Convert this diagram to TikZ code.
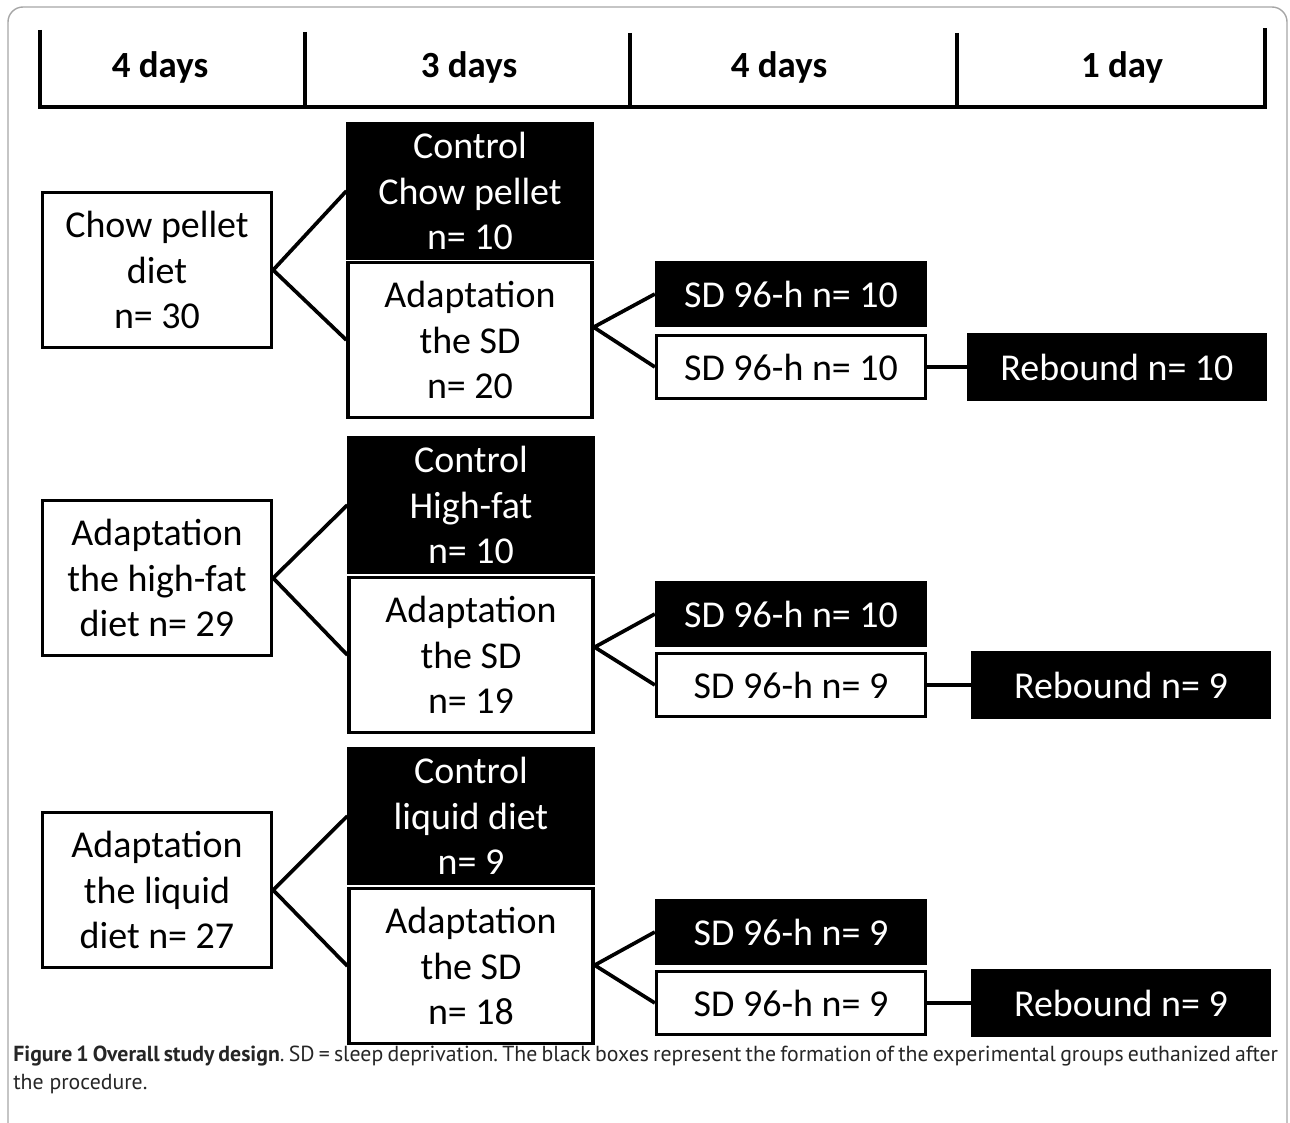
\documentclass[tikz,border=0pt]{standalone}
\usepackage{fontspec}
\setmainfont{Carlito}
\newfontfamily\capfont{PT Sans}
\usetikzlibrary{positioning,calc}
\tikzstyle{wbox}=[draw,line width=1.9pt,fill=white,align=center,inner sep=0pt,font=\fontsize{21.6}{26}\selectfont]
\tikzstyle{bbox}=[wbox,fill=black,text=white]
\tikzstyle{rootbox}=[minimum width=4.58cm,minimum height=3.1cm]
\tikzstyle{ctlbox}=[minimum width=4.88cm,minimum height=2.68cm]
\tikzstyle{adbox}=[minimum width=4.88cm,minimum height=3.1cm]
\tikzstyle{sdbox}=[minimum width=5.38cm,minimum height=1.26cm]
\tikzstyle{rebbox}=[minimum width=5.94cm,minimum height=1.28cm]
\tikzstyle{link}=[line width=2.1pt,line join=round]
\tikzstyle{tline}=[line width=2.3pt]
\tikzstyle{period}=[anchor=base,font=\bfseries\fontsize{21}{26}\selectfont]

\begin{document}
\frenchspacing
\begin{tikzpicture}[x=0.02cm,y=-0.02cm]
\useasboundingbox (0,0) rectangle (1290,1122);
\draw[gray!70,line width=0.8pt,rounded corners=0.3cm] (8,1130) -- (8,7) -- (1287,7) -- (1287,1130);

\draw[tline] (40,30) -- (40,107) -- (1265,107) -- (1265,28);
\draw[tline] (305,32) -- (305,107);
\draw[tline] (630,33) -- (630,107);
\draw[tline] (957,33) -- (957,107);
\node[period] (p1) at (160,78) {4 days};
\node[period] (p2) at (469,78) {3 days};
\node[period] (p3) at (779,78) {4 days};
\node[period] (p4) at (1122,78) {1 day};

\node[wbox,rootbox] (chow) at (157,270) {Chow pellet\\diet\\n= 30};
\node[bbox,ctlbox] (ctlA) at (470,191) {Control\\Chow pellet\\n= 10};
\node[wbox,adbox] (adA) at (470,340) {Adaptation\\the SD\\n= 20};
\node[bbox,sdbox] (sdA) at (791,294) {SD 96-h n= 10};
\node[wbox,sdbox] (sdwA) at (791,367) {SD 96-h n= 10};
\node[bbox,rebbox] (rebA) at (1117,367) {Rebound n= 10};

\node[wbox,rootbox] (fat) at (157,578) {Adaptation\\the high-fat\\diet n= 29};
\node[bbox,ctlbox] (ctlB) at (471,505) {Control\\High-fat\\n= 10};
\node[wbox,adbox] (adB) at (471,655) {Adaptation\\the SD\\n= 19};
\node[bbox,sdbox] (sdB) at (791,614) {SD 96-h n= 10};
\node[wbox,sdbox] (sdwB) at (791,685) {SD 96-h n= 9};
\node[bbox,rebbox] (rebB) at (1121,685) {Rebound n= 9};

\node[wbox,rootbox] (liquid) at (157,890) {Adaptation\\the liquid\\diet n= 27};
\node[bbox,ctlbox] (ctlC) at (471,816) {Control\\liquid diet\\n= 9};
\node[wbox,adbox] (adC) at (471,966) {Adaptation\\the SD\\n= 18};
\node[bbox,sdbox] (sdC) at (791,932) {SD 96-h n= 9};
\node[wbox,sdbox] (sdwC) at (791,1003) {SD 96-h n= 9};
\node[bbox,rebbox] (rebC) at (1121,1003) {Rebound n= 9};

\draw[link] (ctlA.west) -- (chow.east) -- (adA.west);
\draw[link] (sdA.west) -- (adA.east |- sdA.south) -- (sdwA.west);
\draw[link] (sdwA) -- (rebA);
\draw[link] (ctlB.west) -- (fat.east) -- (adB.west);
\draw[link] (sdB.west) -- (adB.east |- sdB.south) -- (sdwB.west);
\draw[link] (sdwB) -- (rebB);
\draw[link] (ctlC.west) -- (liquid.east) -- (adC.west);
\draw[link] (sdC.west) -- (adC.east |- sdC.south) -- (sdwC.west);
\draw[link] (sdwC) -- (rebC);

\node[anchor=north west,inner sep=0pt,text width=25.3cm,align=justify,text=black!85,font=\capfont\fontsize{12.4}{15.9}\selectfont] (caption) at (13,1046) {\textbf{Figure 1 Overall study design}. SD = sleep deprivation. The black boxes represent the formation of the experimental groups euthanized after\linebreak the procedure.};
\end{tikzpicture}
\end{document}
